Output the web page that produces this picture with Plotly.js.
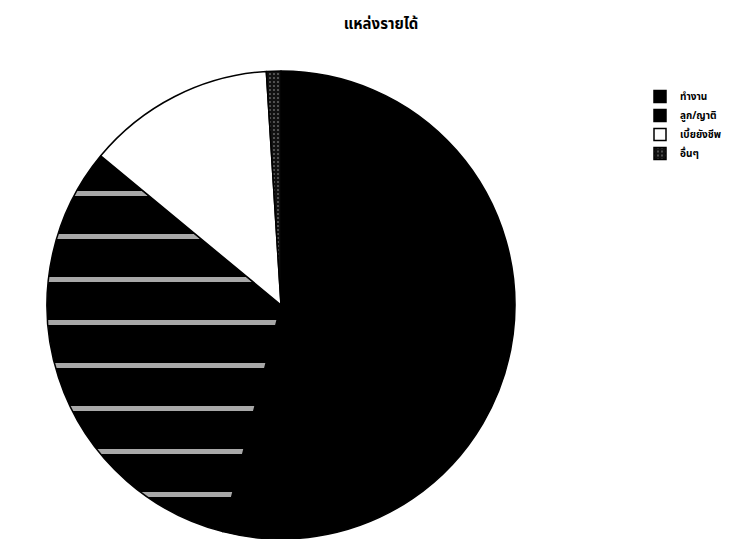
<!DOCTYPE html>
<html>
<head>
<meta charset="utf-8">
<script src="https://cdn.plot.ly/plotly-3.0.1.min.js"></script>
<style>html,body{margin:0;padding:0;background:#fff;}#chart{width:729px;height:539px;}</style>
</head>
<body>
<div id="chart"></div>
<script>
const categories = ['ทำงาน', 'ลูก/ญาติ', 'เบี้ยยังชีพ', 'อื่นๆ'];
const values = [54, 32, 13, 1];
const chartTitle = 'แหล่งรายได้';

const sliceColors = ['#000000', '#000000', '#ffffff', '#111111'];
const patternShapes = ['', '-', '', '.'];
const patternSizes = [43, 43, 43, 4];

const data = [{
  type: 'pie',
  labels: categories,
  values: values,
  sort: false,
  direction: 'clockwise',
  rotation: 0,
  textinfo: 'none',
  hoverinfo: 'label+percent',
  marker: {
    colors: sliceColors,
    line: {color: '#000000', width: 1.5},
    pattern: {
      shape: patternShapes,
      bgcolor: sliceColors,
      fgcolor: '#a8a8a8',
      size: patternSizes,
      solidity: 0.12
    }
  },
  domain: {x: [47/729, 515/729], y: [0, 468/539]}
}];

const layout = {
  width: 729, height: 539,
  margin: {l: 0, r: 0, t: 0, b: 0},
  paper_bgcolor: '#ffffff',
  font: {family: 'Tahoma, "Noto Sans Thai", "DejaVu Sans", sans-serif', color: '#000'},
  title: {
    text: '<b>' + chartTitle + '</b>',
    x: 381/729, xanchor: 'center',
    y: 1 - 24/539, yanchor: 'middle', yref: 'container',
    font: {size: 15, color: '#000'}
  },
  showlegend: true,
  legend: {
    x: 640/729, xanchor: 'left',
    y: 1 - 82/539, yanchor: 'top',
    font: {size: 10, color: '#000', weight: 'bold'},
    bgcolor: 'rgba(0,0,0,0)',
    itemwidth: 30
  }
};

Plotly.newPlot('chart', data, layout, {displayModeBar: false, staticPlot: true});
</script>
</body>
</html>
